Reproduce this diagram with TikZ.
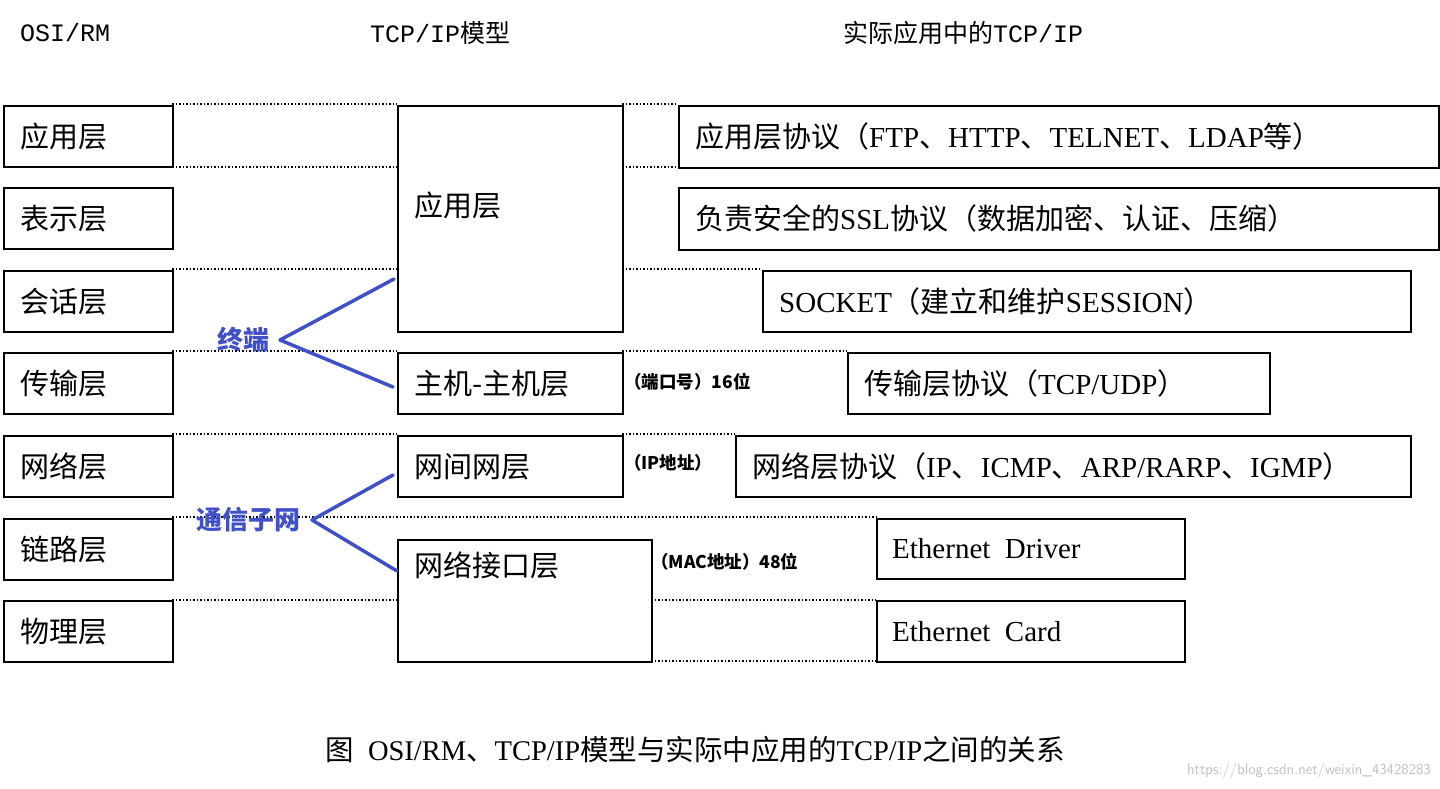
\documentclass[tikz,border=0pt]{standalone}
\usepackage{fontspec}
\setmainfont{Liberation Serif}
\newfontfamily\cjk{Noto Sans CJK SC}
\newfontfamily\mono{Liberation Mono}
\newcommand{\C}[1]{{\cjk #1}}
\definecolor{bl}{HTML}{4050C8}
\begin{document}
\begin{tikzpicture}[x=1pt,y=-1pt,
  box/.style={draw,line width=1.6pt,inner sep=0pt},
  txt/.style={anchor=west,inner sep=0pt,font=\fontsize{29}{32}\selectfont},
  hdr/.style={anchor=west,inner sep=0pt,font=\fontsize{25}{28}\selectfont},
  note/.style={anchor=west,inner sep=0pt,font=\cjk\bfseries\fontsize{17.5}{20}\selectfont},
  dl/.style={dotted,line width=1.5pt},
  bline/.style={draw=bl,line width=3.5pt,line cap=round,line join=round},
  blab/.style={text=bl,inner sep=0pt,font=\cjk\bfseries\fontsize{26}{28}\selectfont}]
\useasboundingbox (0,0) rectangle (1440,789);
% headers
\node[hdr] (h1) at (20,33) {\mono OSI/RM};
\node[hdr] (h2) at (370,33) {\mono TCP/IP\C{模型}};
\node[hdr] (h3) at (843,33) {\C{实际应用中的}\mono TCP/IP};
% dotted lines
\foreach \y/\a/\b in {104/172/397,104/622/678,167/172/397,167/622/678,
  269/172/397,269/622/762,351/172/397,351/622/847,434/172/397,434/622/735,
  517/172/876,600/172/397,600/651/876,661/651/876}
  \draw[dl] (\a,\y) -- (\b,\y);
% OSI boxes
\foreach \n/\t/\y in {o1/应用层/105,o2/表示层/187,o3/会话层/270,o4/传输层/352,o5/网络层/435,o6/链路层/518,o7/物理层/600}{
  \node[box,anchor=north west,minimum width=169pt,minimum height=61pt] (\n) at (3,\y) {};
  \node[txt] at ([xshift=17pt]\n.west) {\C{\t}};
}
% TCP/IP boxes
\node[box,anchor=north west,minimum width=225pt,minimum height=226pt] (t1) at (397,105) {};
\node[txt] (t1t) at (414,205) {\C{应用层}};
\node[box,anchor=north west,minimum width=225pt,minimum height=61pt] (t2) at (397,352) {};
\node[txt] at ([xshift=17pt]t2.west) {\C{主机-主机层}};
\node[box,anchor=north west,minimum width=225pt,minimum height=61pt] (t3) at (397,435) {};
\node[txt] at ([xshift=17pt]t3.west) {\C{网间网层}};
\node[box,anchor=north west,minimum width=254pt,minimum height=122pt] (t4) at (397,539) {};
\node[txt] (t4t) at (414,565) {\C{网络接口层}};
% right boxes
\node[box,anchor=north west,minimum width=760pt,minimum height=62pt] (r1) at (678,105) {};
\node[txt] at ([xshift=17pt]r1.west) {\C{应用层协议（}FTP\C{、}HTTP\C{、}TELNET\C{、}LDAP\C{等）}};
\node[box,anchor=north west,minimum width=760pt,minimum height=62pt] (r2) at (678,187) {};
\node[txt] at ([xshift=17pt]r2.west) {\C{负责安全的}SSL\C{协议（数据加密、认证、压缩）}};
\node[box,anchor=north west,minimum width=648pt,minimum height=61pt] (r3) at (762,270) {};
\node[txt] at ([xshift=17pt]r3.west) {SOCKET\C{（建立和维护}SESSION\C{）}};
\node[box,anchor=north west,minimum width=422pt,minimum height=61pt] (r4) at (847,352) {};
\node[txt] at ([xshift=17pt]r4.west) {\C{传输层协议（}TCP/UDP\C{）}};
\node[box,anchor=north west,minimum width=675pt,minimum height=61pt] (r5) at (735,435) {};
\node[txt] at ([xshift=17pt]r5.west) {\C{网络层协议（}IP\C{、}ICMP\C{、}ARP/RARP\C{、}IGMP\C{）}};
\node[box,anchor=north west,minimum width=308pt,minimum height=60pt] (r6) at (876,518) {};
\node[txt] at ([xshift=16pt]r6.west) {Ethernet\ \ Driver};
\node[box,anchor=north west,minimum width=308pt,minimum height=61pt] (r7) at (876,600) {};
\node[txt] at ([xshift=16pt]r7.west) {Ethernet\ \ Card};
% notes
\node[note] (n1) at (624,382) {（端口号）16位};
\node[note] (n2) at (624,463) {（IP地址）};
\node[note] (n3) at (651,562) {（MAC地址）48位};
% blue
\coordinate (a1) at (394,279); \coordinate (a2) at (280,340); \coordinate (a3) at (393,387);
\draw[bline] (a1) -- (a2) -- (a3);
\node[blab] (l1) at (243,340) {终端};
\coordinate (b1) at (393,475); \coordinate (b2) at (312,520); \coordinate (b3) at (397,571);
\draw[bline] (b1) -- (b2) -- (b3);
\node[blab] (l2) at (248,520) {通信子网};
% caption
\node[inner sep=0pt,font=\fontsize{28.5}{32}\selectfont] (cap) at (695,750) {\C{图}\ \ OSI/RM\C{、}TCP/IP\C{模型与实际中应用的}TCP/IP\C{之间的关系}};
\node[anchor=east,inner sep=0pt,text=black!25,font=\fontsize{15}{17}\selectfont\sffamily] (wm) at (1431,771) {https://blog.csdn.net/weixin\_43428283};
\end{tikzpicture}
\end{document}
